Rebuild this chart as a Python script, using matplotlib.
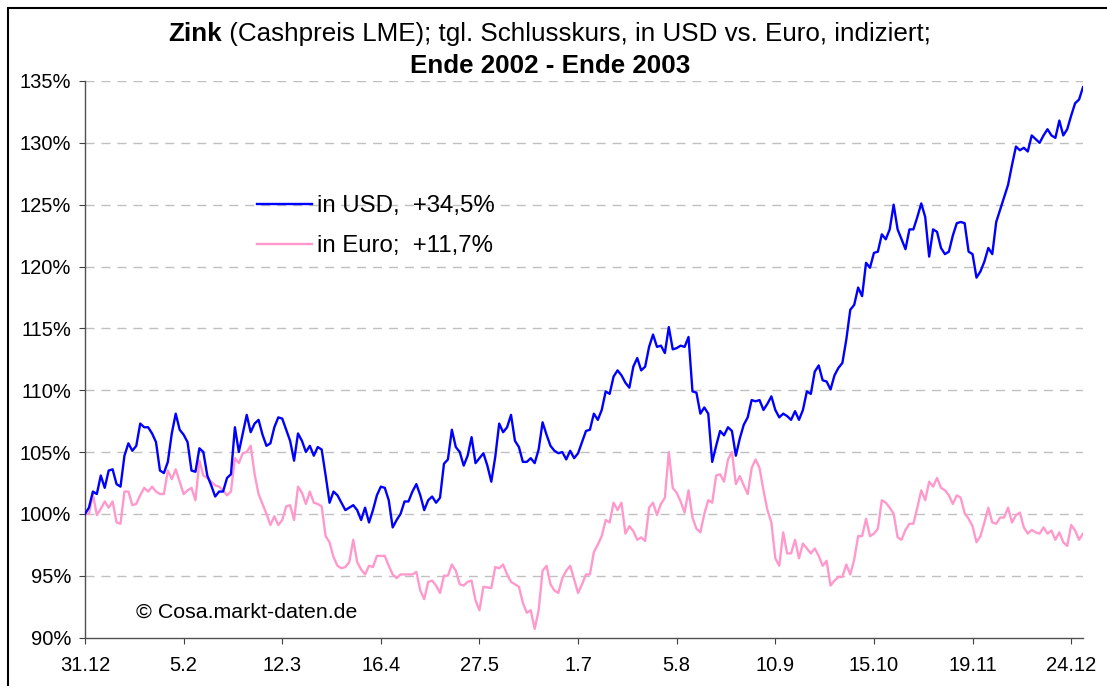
import matplotlib
matplotlib.use("Agg")
import matplotlib.pyplot as plt
from matplotlib.patches import Rectangle
import numpy as np

plt.rcParams['font.family'] = ['Liberation Sans', 'DejaVu Sans']
plt.rcParams['lines.scale_dashes'] = False

# ---------------- data (index = trading day, 31.12.2002 = 0) ----------------
usd = [
    100.0, 100.5, 101.8, 101.6, 103.1, 102.1, 103.5, 103.6, 102.4, 102.2,
    104.7, 105.7, 105.1, 105.5, 107.3, 107.0, 107.0, 106.5, 105.8, 103.5,
    103.3, 104.2, 106.5, 108.1, 106.8, 106.4, 105.8, 103.5, 103.4, 105.3,
    105.0, 103.1, 102.3, 101.4, 101.8, 101.8, 102.9, 103.2, 107.0, 105.0,
    106.5, 108.0, 106.6, 107.3, 107.6, 106.4, 105.5, 105.7, 107.0, 107.8,
    107.7, 106.8, 105.9,
    104.3, 106.5, 105.9, 105.0, 105.5, 104.7, 105.4, 105.2, 103.1, 100.9,
    101.8, 101.5, 100.9, 100.3, 100.5, 100.7, 100.3, 99.5, 100.5, 99.3,
    100.3, 101.5, 102.2, 102.1, 101.1, 98.9, 99.5, 100.0, 101.0, 101.0,
    101.8, 102.4, 101.5, 100.3, 101.1, 101.4, 100.9, 101.3, 104.05, 104.4,
    106.8, 105.4, 105.0, 103.9, 104.7, 106.2, 104.1, 104.5, 104.9, 103.9,
    102.6,
    104.6, 107.3, 106.6, 107.0, 108.0, 105.9, 105.4, 104.2, 104.2, 104.5,
    104.1, 105.2, 107.4, 106.4, 105.5, 105.1, 104.9, 105.0, 104.4, 105.1,
    104.5, 104.9, 105.8, 106.7, 106.8, 108.1, 107.6, 108.4, 109.9, 109.7,
    111.1, 111.6, 111.2, 110.6, 110.2, 111.9, 112.6, 111.6, 111.9, 113.5,
    114.5, 113.5, 113.6, 113.0, 115.1, 113.3, 113.4, 113.6, 113.5, 114.3,
    109.9, 109.8, 108.1,
    108.6, 108.1, 104.2, 105.5, 106.7, 106.35, 107.0, 106.7, 104.7, 106.1,
    107.2, 107.8, 109.2, 109.1, 109.2, 108.4, 108.9, 109.5, 108.4, 107.8,
    108.1, 107.9, 107.6, 108.3, 107.6, 108.4, 109.9, 109.7, 111.5, 112.0,
    110.8, 110.7, 110.05, 111.2, 111.8, 112.2, 114.1, 116.5, 116.9, 118.3,
    117.6, 120.3, 119.9, 121.1, 121.2, 122.6, 122.2, 123.0, 125.0, 123.0,
    122.2,
    121.4, 123.0, 123.0, 124.0, 125.1, 124.0, 120.8, 123.0, 122.8, 121.5,
    121.0, 121.2, 122.5, 123.5, 123.6, 123.5, 121.2, 121.0, 119.1, 119.6,
    120.4, 121.5, 121.0, 123.6, 124.6, 125.6, 126.6, 128.2, 129.7, 129.4,
    129.6, 129.3, 130.6, 130.3, 130.0, 130.6, 131.1, 130.6, 130.4, 131.8,
    130.6, 131.1, 132.2, 133.2, 133.5, 134.5,
]

euro = [
    100.0, 100.0, 101.6, 99.9, 100.4, 101.0, 100.5, 101.0, 99.3, 99.2,
    101.8, 101.8, 100.7, 100.8, 101.5, 102.1, 101.8, 102.2, 101.8, 101.6,
    101.6, 103.5, 102.8, 103.6, 102.6, 101.6, 101.9, 102.1, 101.1, 104.3,
    103.1, 102.9, 102.6, 102.3, 102.2, 101.9, 101.5, 101.8, 104.5, 104.1,
    104.9, 105.0, 105.5, 103.2, 101.6, 100.8, 100.0, 99.1, 99.8, 99.1,
    99.5, 100.6, 100.7,
    99.5, 102.2, 101.7, 100.8, 101.8, 100.9, 100.8, 100.6, 98.2, 97.7,
    96.5, 95.8, 95.6, 95.7, 96.1, 97.9, 96.1, 95.5, 95.1, 95.8,
    95.7, 96.6, 96.6, 96.6, 95.8, 95.1, 94.8, 95.1, 95.1, 95.1,
    95.1, 95.3, 93.8, 93.1, 94.5, 94.6, 94.2, 93.6, 95.0, 95.0,
    95.9, 95.4, 94.3, 94.2, 94.5, 94.6, 93.0, 92.2, 94.1, 94.05,
    94.0,
    95.7, 95.6, 95.9, 95.1, 94.5, 94.3, 94.1, 92.8, 92.0, 92.2,
    90.7, 92.2, 95.4, 95.8, 94.3, 93.8, 93.6, 94.8, 95.4, 95.8,
    94.7, 93.6, 94.3, 95.1, 95.1, 96.9, 97.5, 98.2, 99.5, 99.3,
    100.9, 100.3, 100.9, 98.4, 99.0, 98.6, 97.9, 98.1, 97.8, 100.5,
    100.9, 99.9, 100.8, 101.3, 105.0, 102.1, 101.7, 101.0, 100.1, 101.9,
    99.7, 98.8, 98.5,
    100.0, 101.1, 100.9, 103.1, 103.2, 102.6, 104.4, 105.0, 102.4, 103.05,
    102.3, 101.6, 103.7, 104.4, 103.7, 101.9, 100.3, 99.3, 96.4, 95.8,
    98.5, 96.8, 96.8, 97.9, 96.4, 97.6, 97.2, 96.8, 97.2, 96.6,
    95.8, 96.2, 94.2, 94.6, 94.9, 94.9, 95.9, 95.1, 96.3, 98.2,
    98.2, 99.6, 98.2, 98.4, 98.8, 101.1, 100.9, 100.5, 100.0, 98.1,
    97.9,
    98.7, 99.2, 99.2, 100.5, 101.9, 101.1, 102.6, 102.2, 102.9, 102.1,
    101.9, 101.5, 100.8, 101.5, 101.3, 100.05, 99.6, 99.0, 97.7, 98.2,
    99.3, 100.5, 99.3, 99.2, 99.7, 99.7, 100.5, 99.3, 99.9, 100.1,
    98.9, 98.4, 98.7, 98.5, 98.4, 98.9, 98.4, 98.65, 97.9, 98.5,
    97.7, 97.4, 99.1, 98.65, 97.9, 98.4,
]

tick_pos = [0, 25, 50, 75, 100, 125, 150, 175, 200, 225, 250]
tick_labels = ['31.12', '5.2', '12.3', '16.4', '27.5', '1.7', '5.8',
               '10.9', '15.10', '19.11', '24.12']
y_ticks = [90, 95, 100, 105, 110, 115, 120, 125, 130, 135]
label_usd = 'in USD,  +34,5%'
label_euro = 'in Euro;  +11,7%'

# ---------------- figure ----------------
W, H = 1107, 686
fig = plt.figure(figsize=(W / 100, H / 100), dpi=100)
fig.patch.set_facecolor('white')

L, R, T, B = 85, 1083, 81, 637.5
ax = fig.add_axes([L / W, 1 - B / H, (R - L) / W, (B - T) / H])

x_usd = np.arange(len(usd))
x_eur = np.arange(len(euro))
l1, = ax.plot(x_usd, usd, color='#0000FF', lw=1.7, label=label_usd, zorder=3)
l2, = ax.plot(x_eur, euro, color='#FF99CC', lw=1.7, label=label_euro, zorder=2)

ax.set_xlim(0, len(usd) - 1)
ax.set_ylim(90, 135)

ax.set_yticks(y_ticks)
ax.set_yticklabels([f'{v}%' for v in y_ticks])
ax.set_xticks(tick_pos)
ax.set_xticklabels(tick_labels)

for v in y_ticks[1:]:
    ax.axhline(v, color='#C0C0C0', lw=1.0, ls=(0, (6.5, 5)), zorder=1)

for s in ['top', 'right']:
    ax.spines[s].set_visible(False)
for s in ['left', 'bottom']:
    ax.spines[s].set_color('#505050')
    ax.spines[s].set_linewidth(1.0)

ax.tick_params(axis='both', direction='out', length=4, width=0.8,
               color='#404040', labelsize=14.5, labelcolor='black')
ax.tick_params(axis='y', pad=6)
ax.tick_params(axis='x', pad=9)

# legend
leg = ax.legend(handles=[l1, l2], loc='upper left',
                bbox_to_anchor=(257 / W, 1 - 195 / H),
                bbox_transform=fig.transFigure, frameon=False,
                fontsize=17.3, handlelength=2.3, handletextpad=0.21,
                labelspacing=0.75, borderpad=0, borderaxespad=0)

# copyright
fig.text(136 / W, 1 - 612 / H, '\u00a9 Cosa.markt-daten.de', fontsize=15.4,
         ha='left', va='center')

# title (mixed bold / regular on first line)
fs_title = 18.7
t_bold = fig.text(0, 1 - 34 / H, 'Zink', fontsize=fs_title, weight='bold',
                  ha='left', va='center')
t_reg = fig.text(0, 1 - 34 / H, ' (Cashpreis LME); tgl. Schlusskurs, in USD vs. Euro, indiziert;',
                 fontsize=fs_title, ha='left', va='center')
fig.canvas.draw()
r = fig.canvas.get_renderer()
wb = t_bold.get_window_extent(r).width
wr = t_reg.get_window_extent(r).width
cx = 550
x0 = cx - (wb + wr) / 2
t_bold.set_x(x0 / W)
t_reg.set_x((x0 + wb) / W)
fig.text(cx / W, 1 - 66 / H, 'Ende 2002 - Ende 2003', fontsize=fs_title,
         weight='bold', ha='center', va='center')

# chart border
fig.patches.append(Rectangle((8 / W, -0.05), 1.2, 1.05 - 8 / H,
                             transform=fig.transFigure, fill=False,
                             edgecolor='black', lw=1.5))

fig.savefig('out.png', dpi=100)
